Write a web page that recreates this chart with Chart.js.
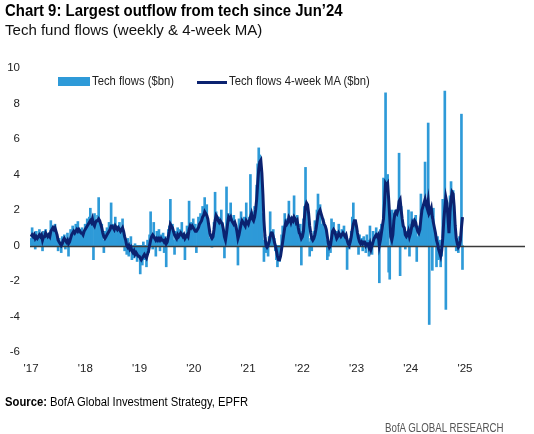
<!DOCTYPE html>
<html>
<head>
<meta charset="utf-8">
<script src="https://cdn.jsdelivr.net/npm/chart.js@4/dist/chart.umd.min.js"></script>
<style>
  html, body { margin: 0; padding: 0; background: #fff; }
  body { width: 534px; height: 434px; position: relative; overflow: hidden;
         font-family: "Liberation Sans", Arial, sans-serif; color: #000; }
  #chart { position: absolute; left: 0; top: 0; }
  .txt { position: absolute; white-space: nowrap; transform-origin: 0 0; }
  #title { left: 5px; top: 1px; font-size: 17px; font-weight: bold; transform: scaleX(0.878); }
  #sub { left: 5px; top: 21px; font-size: 15.5px; color: #111; transform: scaleX(0.97); }
  #legend { left: 58px; top: 74px; font-size: 12.5px; color: #222; }
  #legend span { position: absolute; white-space: nowrap; transform-origin: 0 0; }
  #legend .box { left: 0; top: 3px; width: 32px; height: 9px; background: #2e9ad8; }
  #legend .t1 { left: 34px; top: 0; transform: scaleX(0.9); }
  #legend .line { left: 139px; top: 7px; width: 30px; height: 3px; background: #0b2270; }
  #legend .t2 { left: 171px; top: 0; transform: scaleX(0.9); }
  #source { left: 5px; top: 395px; font-size: 12.5px; transform: scaleX(0.9); }
  #brand { left: 385px; top: 421px; font-size: 12px; color: #555; transform: scaleX(0.81); }
</style>
</head>
<body>
<canvas id="chart" width="534" height="434"></canvas>
<div class="txt" id="title">Chart 9: Largest outflow from tech since Jun’24</div>
<div class="txt" id="sub">Tech fund flows (weekly &amp; 4-week MA)</div>
<div class="txt" id="legend">
  <span class="box"></span><span class="t1">Tech flows ($bn)</span>
  <span class="line"></span><span class="t2">Tech flows 4-week MA ($bn)</span>
</div>
<div class="txt" id="source"><b>Source:</b> BofA Global Investment Strategy, EPFR</div>
<div class="txt" id="brand">BofA GLOBAL RESEARCH</div>

<script>
// ── Datos (semanal, $bn) ─────────────────────────────────────────────────────
const firstWeek = 2017.0;          // primera semana, en años
const weekStep  = 7 / 365.25;

const techFlows = [
  // 2017
  0.4, 1.0, 0.2, 0.6, -0.2, 0.8, 0.3, 0.5, 0.9, 0.1, 0.6, -0.3, 0.8,
  0.4, 0.9, 0.2, 0.5, 0.7, 0.3, 1.4, 0.8, 1.1, 0.6, 1.2, 0.5, 0.2,
  -0.3, 0.4, 0.1, -0.4, 0.5, 0.3, 0.6, -0.2, 0.2, 0.7, -0.6, 0.4, 0.9,
  0.3, 1.1, 0.6, 0.8, 1.2, 0.5, 1.35, 0.7, 0.9, 0.4, 1.0, 0.6, 0.8,
  // 2018
  1.2, 0.8, 1.5, 0.9, 1.6, 2.1, 1.0, 1.4, -0.8, 1.8, 1.3, 0.9, 1.7,
  2.7, 1.1, 0.6, 1.2, 0.3, -0.4, 0.8, 0.5, 1.0, 0.4, 1.3, 0.7, 2.4,
  0.6, 1.2, 0.9, 1.6, 0.4, 1.1, 0.8, 1.3, 0.5, 1.0, 1.5, 0.7, -0.3,
  0.2, -0.5, 0.4, -0.6, -0.3, 0.5, -0.8, -0.2, -0.7, 0.1, -0.5, -0.9, -0.4,
  // 2019
  -0.6, -1.6, -0.3, -1.1, 0.2, -0.8, -0.5, -1.2, 0.3, -0.4, 0.6, 1.9, 0.4,
  -0.2, 1.3, 0.5, -0.6, 0.8, 0.2, 0.9, -0.3, 0.6, 0.1, 0.7, -0.4, 0.5,
  -1.2, 0.4, 0.9, 1.1, 2.6, 0.6, 1.2, 0.3, -0.5, 0.8, 0.4, 1.0, 0.2,
  0.9, 0.5, 1.3, 0.3, 0.7, -0.8, 0.6, 1.1, 0.4, 2.5, 0.7, 1.3, 0.9,
  // 2020
  1.5, 0.8, 1.2, -0.4, 1.0, 1.6, 0.9, 1.8, 1.4, 2.2, 1.5, 2.7, 1.9,
  2.3, 1.2, 0.4, 0.2, 0.6, -0.1, 0.5, 1.3, 3.0, 1.9, 1.4, 0.8, 1.6,
  1.1, 2.0, 1.3, 0.6, -0.7, 0.3, 3.3, 1.2, 1.8, 1.0, 2.4, 1.5, 0.9,
  1.7, 1.2, 0.8, 0.6, -1.1, 1.5, 0.9, 1.9, 1.3, 0.7, 1.6, 1.1, 2.4,
  // 2021
  1.2, 0.8, 1.6, 4.0, 1.3, 1.9, 1.1, 2.2, 1.4, 3.4, 4.6, 5.5, 5.1,
  4.2, 1.8, 0.3, -0.9, 0.6, -0.4, 0.2, -0.6, 0.5, 1.9, 0.8, 0.3, 0.9,
  0.4, -0.3, -0.8, -1.2, -0.7, -0.9, -0.2, 0.6, 1.1, 0.9, 1.8, 1.2, 1.5,
  0.8, 2.5, 1.3, 0.9, 1.6, 1.0, 2.8, 1.4, 1.1, 1.7, 0.6, 0.3, 1.2,
  // 2022
  -1.1, 0.8, 1.5, 2.2, 4.4, 1.9, 1.3, 0.2, -0.6, 0.4, -0.3, 0.5, 0.8,
  1.4, 0.9, 2.0, 2.9, 1.6, 2.3, 1.2, 0.7, 1.5, 0.8, 1.0, 0.3, -0.8,
  -0.6, 0.2, -0.4, 1.5, 0.9, 1.3, 0.6, 0.2, 0.8, 0.5, 1.2, 0.3, 0.7,
  0.9, 0.4, 1.1, 0.5, 0.6, -1.35, 0.3, -0.2, 0.4, 0.8, 1.6, 2.4, 1.2,
  // 2023
  1.4, 0.9, 0.3, -0.5, 0.6, 0.2, 0.4, -0.3, 0.5, 0.1, -0.4, 0.6, 0.3,
  -0.6, 1.1, 0.2, -0.5, 0.8, 0.6, 0.3, 1.0, 0.4, 0.7, -2.1, 0.9, 1.2,
  0.8, 3.8, 1.0, 8.6, 0.2, 4.0, -1.5, -1.9, 0.9, 2.0, 1.3, 1.8, 2.0,
  1.5, 1.9, 0.8, 5.2, -1.7, 2.2, 1.4, 0.9, 0.6, -0.2, 0.8, 0.4, 2.0,
  // 2024
  -0.6, 1.2, 1.9, 0.8, 1.5, 0.6, 1.7, -0.9, 0.5, 1.1, 0.6, 2.9, 2.1,
  1.8, 2.2, 4.7, 1.6, 2.4, 6.9, -4.45, 2.0, 1.4, -1.4, 2.1, 0.8, 0.4,
  -1.2, 0.5, -0.8, 0.3, -1.2, -0.6, 2.6, 1.9, 8.7, -3.6, 2.4, 1.5, 0.6,
  2.8, 3.6, 2.5, 3.1, 1.6, 0.35, -0.3, 0.2, -0.4, 0.5, 0.3, 7.4, -1.35
];

const techFlowsMA = [
  // 2017
  0.5, 0.6, 0.5, 0.6, 0.4, 0.5, 0.4, 0.5, 0.6, 0.5, 0.6, 0.3, 0.5,
  0.5, 0.7, 0.6, 0.5, 0.6, 0.5, 0.8, 0.9, 1.0, 0.9, 1.0, 0.8, 0.6,
  0.3, 0.2, 0.1, 0.0, 0.1, 0.3, 0.4, 0.3, 0.2, 0.3, 0.1, 0.2, 0.4,
  0.6, 0.7, 0.8, 0.7, 0.8, 0.9, 0.8, 0.9, 0.8, 0.7, 0.7, 0.6, 0.8,
  // 2018
  0.9, 1.0, 1.1, 1.2, 1.3, 1.4, 1.3, 1.5, 1.2, 1.1, 1.3, 1.4, 1.4,
  1.5, 1.4, 1.2, 1.0, 0.7, 0.5, 0.4, 0.5, 0.6, 0.7, 0.8, 0.9, 1.1,
  1.1, 1.0, 0.9, 1.1, 1.0, 0.9, 1.0, 0.9, 0.8, 0.9, 1.0, 0.8, 0.5,
  0.3, 0.0, -0.1, 0.0, -0.2, -0.1, -0.3, -0.4, -0.3, -0.5, -0.4, -0.5, -0.6,
  // 2019
  -0.6, -0.7, -0.8, -0.7, -0.6, -0.5, -0.6, -0.7, -0.5, -0.3, 0.0, 0.3, 0.5,
  0.6, 0.5, 0.4, 0.3, 0.4, 0.3, 0.4, 0.3, 0.4, 0.3, 0.3, 0.2, 0.3,
  0.1, 0.2, 0.5, 0.8, 1.2, 1.1, 1.0, 0.8, 0.6, 0.5, 0.4, 0.6, 0.5,
  0.6, 0.7, 0.6, 0.5, 0.6, 0.4, 0.5, 0.6, 0.5, 0.9, 1.1, 1.0, 1.1,
  // 2020
  1.0, 0.9, 0.8, 0.8, 0.9, 1.0, 1.2, 1.3, 1.4, 1.6, 1.7, 1.9, 1.8,
  1.7, 1.5, 1.1, 0.7, 0.5, 0.4, 0.5, 0.9, 1.4, 1.7, 1.6, 1.4, 1.3,
  1.4, 1.3, 1.2, 0.9, 0.5, 0.3, 0.7, 1.2, 1.6, 1.5, 1.6, 1.4, 1.3,
  1.2, 1.3, 1.1, 0.8, 0.4, 0.6, 0.9, 1.2, 1.4, 1.3, 1.2, 1.1, 1.4,
  // 2021
  1.3, 1.2, 1.4, 1.6, 1.8, 1.5, 1.4, 1.6, 2.0, 2.6, 3.5, 4.3, 4.7,
  4.8, 4.1, 2.9, 1.4, 0.5, 0.0, -0.1, 0.0, 0.2, 0.5, 0.7, 0.7, 0.5,
  0.2, 0.0, -0.3, -0.6, -0.8, -0.8, -0.6, -0.2, 0.2, 0.6, 1.0, 1.3, 1.2,
  1.3, 1.6, 1.5, 1.3, 1.5, 1.4, 1.6, 1.5, 1.3, 1.4, 1.0, 0.7, 0.6,
  // 2022
  0.4, 0.5, 0.8, 1.6, 2.2, 2.4, 2.3, 1.8, 1.1, 0.7, 0.4, 0.3, 0.4,
  0.6, 0.9, 1.3, 1.7, 1.9, 2.0, 1.8, 1.6, 1.4, 1.2, 1.1, 0.9, 0.5,
  0.1, -0.1, 0.0, 0.4, 0.8, 0.9, 0.8, 0.6, 0.4, 0.5, 0.7, 0.6, 0.5,
  0.6, 0.7, 0.6, 0.5, 0.6, 0.3, 0.1, 0.0, 0.2, 0.5, 0.9, 1.2, 1.4,
  // 2023
  1.4, 1.1, 0.7, 0.4, 0.2, 0.1, 0.2, 0.1, 0.2, 0.2, 0.0, 0.1, 0.1,
  -0.1, 0.1, -0.2, 0.0, 0.2, 0.4, 0.5, 0.6, 0.5, 0.6, 0.0, 0.3, 0.7,
  1.1, 1.5, 2.4, 3.5, 3.4, 3.5, 2.6, 1.6, 0.5, 0.3, 0.6, 1.4, 1.8,
  1.9, 1.8, 2.0, 2.5, 2.6, 2.0, 1.5, 1.1, 1.0, 0.6, 0.5, 0.6, 0.8,
  // 2024
  0.5, 0.7, 1.0, 1.3, 1.2, 1.4, 1.3, 1.0, 0.8, 0.7, 0.9, 1.5, 2.0,
  2.2, 2.4, 2.6, 2.3, 2.1, 2.5, 1.8, 1.9, 2.1, 1.6, 1.3, 1.0, 0.7,
  0.3, 0.1, -0.2, -0.4, -0.6, -0.3, 0.4, 1.4, 2.1, 2.7, 2.4, 1.6, 0.7,
  1.9, 2.6, 3.0, 2.9, 2.2, 1.1, 0.4, 0.1, -0.1, 0.0, 0.3, 1.0, 1.6
];

const yTicks     = [-6, -4, -2, 0, 2, 4, 6, 8, 10];
const yearTicks  = [2017, 2018, 2019, 2020, 2021, 2022, 2023, 2024, 2025];
const yearLabels = ["'17", "'18", "'19", "'20", "'21", "'22", "'23", "'24", "'25"];

// ── Helpers ──────────────────────────────────────────────────────────────────
const toPoints = arr => arr.map((v, i) => ({ x: firstWeek + i * weekStep, y: v }));

// línea del cero, encima de las barras y debajo de la media móvil
const zeroLine = {
  id: 'zeroLine',
  afterDatasetDraw(chart, args) {
    if (args.index !== 0) return;
    const { ctx, chartArea, scales } = chart;
    const y = Math.round(scales.y.getPixelForValue(0)) + 0.5;
    ctx.save();
    ctx.strokeStyle = '#3a3a3a';
    ctx.lineWidth = 1.5;
    ctx.beginPath();
    ctx.moveTo(chartArea.left, y);
    ctx.lineTo(chartArea.right, y);
    ctx.stroke();
    ctx.restore();
  }
};

Chart.defaults.font.family = '"Liberation Sans", Arial, sans-serif';
Chart.defaults.color = '#222';

new Chart(document.getElementById('chart'), {
  type: 'bar',
  data: {
    datasets: [
      {
        type: 'bar',
        label: 'Tech flows ($bn)',
        data: toPoints(techFlows),
        backgroundColor: '#2e9ad8',
        barThickness: 2,
        order: 2,
      },
      {
        type: 'line',
        label: 'Tech flows 4-week MA ($bn)',
        data: toPoints(techFlowsMA),
        borderColor: '#0b2270',
        borderWidth: 3,
        pointRadius: 0,
        tension: 0,
        order: 1,
      },
    ],
  },
  options: {
    responsive: false,
    animation: false,
    devicePixelRatio: 1,
    layout: { padding: { top: 68, right: 9, bottom: 58, left: 0 } },
    plugins: { legend: { display: false }, tooltip: { enabled: false } },
    scales: {
      x: {
        type: 'linear',
        offset: false,
        min: 2016.98,
        max: 2026.106,
        grid: { display: false, drawTicks: false, tickLength: 0 },
        border: { display: false },
        afterBuildTicks: s => { s.ticks = yearTicks.map(v => ({ value: v })); },
        afterFit: s => { s.height = 24; },
        ticks: {
          autoSkip: false, maxRotation: 0, padding: 10,
          font: { size: 11.5 },
          callback: v => yearLabels[yearTicks.indexOf(v)] ?? '',
        },
      },
      y: {
        min: -6,
        max: 10,
        grid: { display: false, drawTicks: false, tickLength: 0 },
        border: { display: false },
        afterBuildTicks: s => { s.ticks = yTicks.map(v => ({ value: v })); },
        afterFit: s => { s.width = 30; },
        ticks: { padding: 10, font: { size: 11.5 } },
      },
    },
  },
  plugins: [zeroLine],
});
</script>
</body>
</html>
